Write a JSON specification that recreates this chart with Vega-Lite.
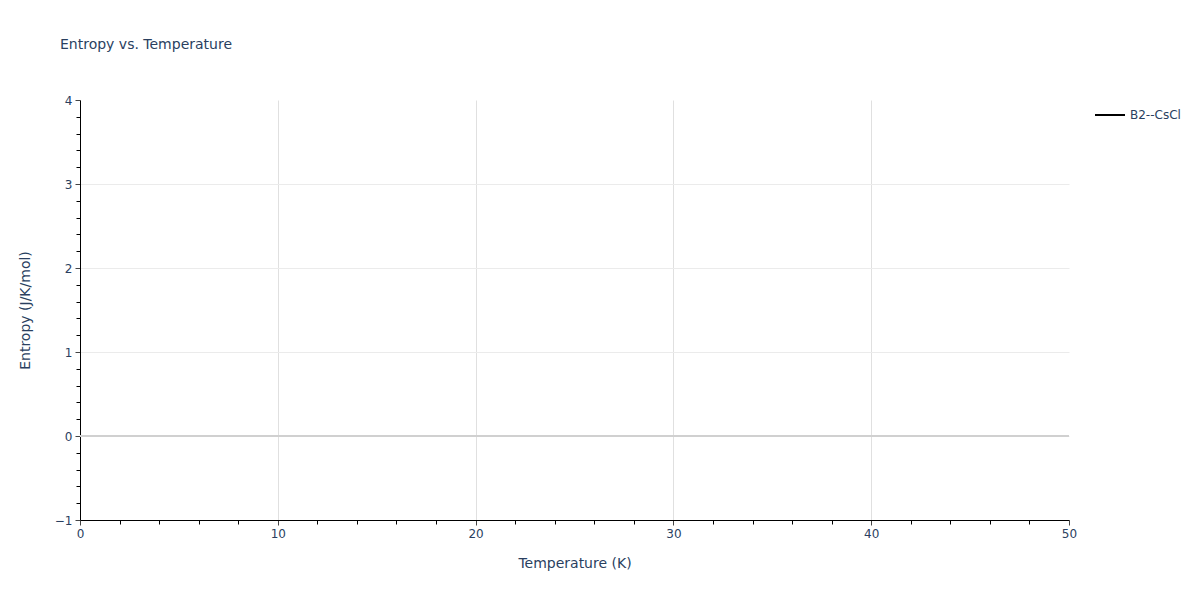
{
  "$schema": "https://vega.github.io/schema/vega-lite/v6.json",
  "width": 989,
  "height": 420,
  "autosize": "none",
  "padding": {"left": 80, "top": 100, "right": 131, "bottom": 80},
  "background": "white",
  "title": {
    "text": "Entropy vs. Temperature",
    "anchor": "start",
    "frame": "group",
    "dx": -20,
    "offset": 42,
    "font": "DejaVu Sans",
    "fontSize": 14,
    "fontWeight": "normal",
    "color": "#2a3f5f"
  },
  "data": {"values": [{"temperature": null, "entropy": null, "phase": "B2--CsCl"}]},
  "layer": [
    {
      "mark": {"type": "point", "opacity": 0},
      "encoding": {
        "x": {
          "datum": 0,
          "type": "quantitative",
          "scale": {"domain": [0, 50]},
          "axis": {
            "orient": "bottom",
            "values": [2, 4, 6, 8, 12, 14, 16, 18, 22, 24, 26, 28, 32, 34, 36, 38, 42, 44, 46, 48],
            "labels": false,
            "grid": false,
            "domain": false,
            "tickSize": 4,
            "tickColor": "#000",
            "title": null
          }
        },
        "y": {
          "datum": 0,
          "type": "quantitative",
          "scale": {"domain": [-1, 4]},
          "axis": {
            "orient": "left",
            "values": [-0.8, -0.6, -0.4, -0.2, 0.2, 0.4, 0.6, 0.8, 1.2, 1.4, 1.6, 1.8, 2.2, 2.4, 2.6, 2.8, 3.2, 3.4, 3.6, 3.8],
            "labels": false,
            "grid": false,
            "domain": false,
            "tickSize": 4,
            "tickColor": "#000",
            "title": null
          }
        }
      }
    },
    {
      "mark": {"type": "rule", "color": "#d0d0d0", "strokeWidth": 2},
      "encoding": {
        "y": {"datum": 0, "type": "quantitative", "scale": {"domain": [-1, 4]}, "axis": null}
      }
    },
    {
      "mark": {"type": "line", "strokeWidth": 2},
      "encoding": {
        "x": {
          "field": "temperature",
          "type": "quantitative",
          "scale": {"domain": [0, 50]},
          "axis": {
            "orient": "bottom",
            "values": [0, 10, 20, 30, 40, 50],
            "title": "Temperature (K)",
            "grid": true,
            "gridColor": "#e0e0e0",
            "gridOpacity": {"condition": {"test": "datum.value == 0 || datum.value == 50", "value": 0}, "value": 1},
            "domainColor": "#000",
            "tickColor": "#444",
            "tickSize": 5,
            "labelFlush": false,
            "labelFont": "DejaVu Sans",
            "labelFontSize": 12,
            "labelColor": "#2a3f5f",
            "labelPadding": 3,
            "titleFont": "DejaVu Sans",
            "titleFontSize": 14,
            "titleFontWeight": "normal",
            "titleColor": "#2a3f5f",
            "titlePadding": 17
          }
        },
        "y": {
          "field": "entropy",
          "type": "quantitative",
          "scale": {"domain": [-1, 4]},
          "axis": {
            "orient": "left",
            "values": [-1, 0, 1, 2, 3, 4],
            "title": "Entropy (J/K/mol)",
            "grid": true,
            "gridColor": "#ebebeb",
            "gridOpacity": {"condition": {"test": "datum.value == -1 || datum.value == 4", "value": 0}, "value": 1},
            "domainColor": "#000",
            "tickColor": "#444",
            "tickSize": 5,
            "labelFlush": false,
            "labelFont": "DejaVu Sans",
            "labelFontSize": 12,
            "labelColor": "#2a3f5f",
            "labelPadding": 3,
            "titleFont": "DejaVu Sans",
            "titleFontSize": 14,
            "titleFontWeight": "normal",
            "titleColor": "#2a3f5f",
            "titlePadding": 22
          }
        },
        "color": {
          "field": "phase",
          "type": "nominal",
          "scale": {"domain": ["B2--CsCl"], "range": ["#000000"]},
          "legend": {
            "orient": "none",
            "legendX": 1014,
            "legendY": -1,
            "title": null,
            "symbolType": "stroke",
            "symbolSize": 900,
            "symbolStrokeWidth": 2,
            "labelFont": "DejaVu Sans",
            "labelFontSize": 12,
            "labelColor": "#2a3f5f"
          }
        }
      }
    }
  ],
  "resolve": {"axis": {"x": "independent", "y": "independent"}},
  "config": {"view": {"stroke": null}}
}
